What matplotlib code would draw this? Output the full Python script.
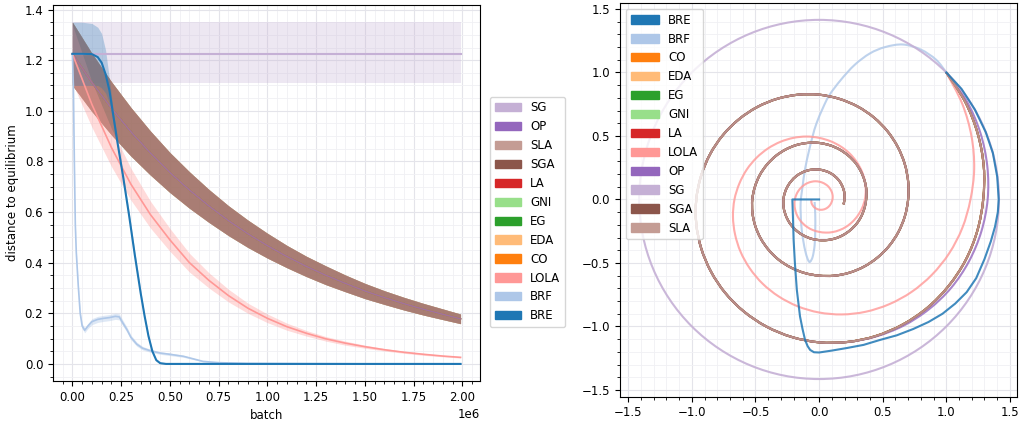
import numpy as np
import matplotlib
matplotlib.use("Agg")
import matplotlib.pyplot as plt
from matplotlib.patches import Patch, Circle, PathPatch
from matplotlib.path import Path

plt.rcParams["font.size"] = 8.5

colors = {"BRE": "#1f77b4", "BRF": "#aec7e8", "CO": "#ff7f0e", "EDA": "#ffbb78",
          "EG": "#2ca02c", "GNI": "#98df8a", "LA": "#d62728", "LOLA": "#ff9896",
          "OP": "#9467bd", "SG": "#c5b0d5", "SGA": "#8c564b", "SLA": "#c49c94"}

# ---------------- left panel data (batch in millions) ----------------
batch_m = [0.0, 0.1, 0.2, 0.3, 0.4, 0.5, 0.6, 0.7, 0.8, 0.9, 1.0,
           1.1, 1.2, 1.3, 1.4, 1.5, 1.6, 1.7, 1.8, 1.9, 1.99]
# CO, EDA, EG, GNI, LA, OP, SGA, SLA all sit on the same curve
group_mean = [1.225, 1.112, 1.010, 0.917, 0.833, 0.756, 0.687, 0.624, 0.566, 0.514, 0.467,
              0.424, 0.385, 0.350, 0.318, 0.288, 0.262, 0.238, 0.216, 0.196, 0.178]
group_spread = [0.125, 0.115, 0.105, 0.096, 0.087, 0.079, 0.072, 0.065, 0.059, 0.054, 0.049,
                0.044, 0.040, 0.037, 0.033, 0.030, 0.027, 0.025, 0.023, 0.021, 0.019]
lola_mean = [1.225, 1.025, 0.855, 0.710, 0.590, 0.490, 0.400, 0.330, 0.270, 0.220, 0.180,
             0.147, 0.121, 0.099, 0.082, 0.068, 0.056, 0.046, 0.038, 0.031, 0.026]
lola_spread = [0.115, 0.090, 0.075, 0.063, 0.053, 0.045, 0.037, 0.030, 0.025, 0.020, 0.017,
               0.014, 0.011, 0.009, 0.008, 0.006, 0.005, 0.004, 0.004, 0.003, 0.003]

sg_batch_m = [0.0, 1.99]
sg_mean = [1.225, 1.225]
sg_low = [1.11, 1.11]
sg_high = [1.35, 1.35]

bre_batch_m = [0.0, 0.05, 0.10, 0.13, 0.15, 0.17, 0.19, 0.21, 0.23, 0.26, 0.29, 0.32, 0.35,
               0.37, 0.39, 0.41, 0.43, 0.45, 0.48, 0.6, 1.0, 1.5, 1.99]
bre_mean = [1.225, 1.225, 1.224, 1.212, 1.190, 1.145, 1.080, 0.980, 0.880, 0.740, 0.590, 0.430,
            0.280, 0.190, 0.110, 0.050, 0.015, 0.003, 0.0, 0.0, 0.0, 0.0, 0.0]
bre_high = [1.35, 1.35, 1.345, 1.33, 1.305, 1.24, 1.125, 0.995, 0.895, 0.755, 0.605, 0.445,
            0.292, 0.198, 0.117, 0.055, 0.018, 0.004, 0.001, 0.0, 0.0, 0.0, 0.0]
bre_low = [1.10, 1.10, 1.10, 1.10, 1.09, 1.07, 1.03, 0.95, 0.86, 0.72, 0.57, 0.41,
           0.265, 0.18, 0.10, 0.044, 0.011, 0.001, 0.0, 0.0, 0.0, 0.0, 0.0]

brf_batch_m = [0.0, 0.005, 0.01, 0.015, 0.02, 0.03, 0.04, 0.05, 0.063, 0.08, 0.10, 0.13, 0.16,
               0.19, 0.22, 0.24, 0.26, 0.28, 0.30, 0.33, 0.36, 0.40, 0.45, 0.50, 0.57, 0.62,
               0.67, 0.75, 0.90, 1.2, 1.6, 1.99]
brf_mean = [1.225, 1.10, 0.80, 0.55, 0.44, 0.31, 0.20, 0.15, 0.133, 0.150, 0.167, 0.176, 0.180,
            0.183, 0.188, 0.186, 0.160, 0.135, 0.105, 0.078, 0.062, 0.052, 0.043, 0.038, 0.030,
            0.020, 0.010, 0.005, 0.002, 0.001, 0.0, 0.0]
brf_spread = [0.01, 0.01, 0.01, 0.01, 0.01, 0.01, 0.01, 0.01, 0.01, 0.01, 0.012, 0.012, 0.012,
              0.012, 0.012, 0.012, 0.011, 0.01, 0.009, 0.008, 0.007, 0.006, 0.005, 0.005, 0.004,
              0.003, 0.002, 0.001, 0.0, 0.0, 0.0, 0.0]

# ---------------- right panel data (trajectories) ----------------
# spirals: radius read every 11.25 degrees, clockwise, starting at 45 deg (the point (1, 1))
sga_r = [1.414, 1.382, 1.350, 1.320, 1.290,
         1.268, 1.247, 1.225, 1.205, 1.184, 1.164, 1.144, 1.125,
         1.104, 1.083, 1.062, 1.042, 1.022, 1.003, 0.984, 0.965,
         0.946, 0.928, 0.910, 0.892, 0.875, 0.858, 0.841, 0.825,
         0.808, 0.792, 0.776, 0.760, 0.744, 0.729, 0.714, 0.700,
         0.687, 0.674, 0.661, 0.648, 0.636, 0.624, 0.612, 0.600,
         0.590, 0.580, 0.571, 0.561, 0.552, 0.543, 0.534, 0.525,
         0.514, 0.504, 0.493, 0.483, 0.473, 0.464, 0.454, 0.445,
         0.435, 0.425, 0.415, 0.406, 0.396, 0.387, 0.379, 0.370,
         0.363, 0.357, 0.351, 0.344, 0.338, 0.332, 0.326, 0.320,
         0.315, 0.309, 0.304, 0.299, 0.294, 0.289, 0.285, 0.280,
         0.274, 0.268, 0.262, 0.257, 0.251, 0.246, 0.240, 0.235,
         0.230, 0.226, 0.221, 0.217, 0.212, 0.208, 0.204, 0.200,
         0.196]
op_head = [1.414, 1.395, 1.372, 1.348, 1.325, 1.300, 1.275, 1.250, 1.222, 1.195, 1.168, 1.145, 1.125]
lola_r = [1.414, 1.354, 1.297, 1.243, 1.190,
          1.148, 1.107, 1.067, 1.029, 0.992, 0.957, 0.923, 0.890,
          0.858, 0.827, 0.798, 0.769, 0.742, 0.715, 0.690, 0.665,
          0.639, 0.615, 0.591, 0.568, 0.546, 0.525, 0.505, 0.485,
          0.467, 0.450, 0.434, 0.418, 0.403, 0.388, 0.374, 0.360,
          0.345, 0.330, 0.316, 0.303, 0.290, 0.278, 0.266, 0.255,
          0.246, 0.237, 0.228, 0.220, 0.212, 0.204, 0.197, 0.190,
          0.183, 0.176, 0.169, 0.163, 0.157, 0.151, 0.146, 0.140,
          0.135, 0.130, 0.126, 0.121, 0.117, 0.113, 0.109, 0.105,
          0.101, 0.098, 0.095, 0.092, 0.089, 0.086, 0.083, 0.080,
          0.077, 0.074, 0.072, 0.069, 0.067, 0.065, 0.062, 0.060]
sg_radius = 1.414

bre_x = [1.0, 1.12, 1.225, 1.31, 1.366, 1.40, 1.412, 1.405, 1.383, 1.35, 1.30, 1.235, 1.16,
         1.07, 0.97, 0.86, 0.74, 0.61, 0.479, 0.35, 0.217, 0.10, 0.0, -0.04, -0.07, -0.09,
         -0.11, -0.13, -0.15, -0.175, -0.19, -0.20, -0.205, -0.21, -0.1, 0.0]
bre_y = [1.0, 0.87, 0.707, 0.53, 0.366, 0.18, 0.0, -0.1, -0.214, -0.33, -0.47, -0.62, -0.73,
         -0.82, -0.90, -0.965, -1.02, -1.07, -1.106, -1.145, -1.17, -1.19, -1.205, -1.203,
         -1.185, -1.155, -1.106, -1.02, -0.92, -0.71, -0.50, -0.32, -0.15, 0.0, 0.0, 0.0]
brf_x = [1.0, 0.92, 0.80, 0.66, 0.52, 0.40, 0.28, 0.17, 0.08, 0.03, -0.02, -0.05, -0.08,
         -0.11, -0.13, -0.145, -0.14, -0.125, -0.105, -0.085, -0.07, -0.05, -0.035, -0.03,
         -0.03, -0.035]
brf_y = [1.0, 1.10, 1.18, 1.22, 1.20, 1.15, 1.06, 0.94, 0.82, 0.72, 0.60, 0.50, 0.38,
         0.24, 0.10, -0.03, -0.20, -0.32, -0.42, -0.48, -0.49, -0.45, -0.36, -0.24,
         -0.12, -0.02]

left_order = ["SG", "OP", "SLA", "SGA", "LA", "GNI", "EG", "EDA", "CO", "LOLA", "BRF", "BRE"]
right_order = ["BRE", "BRF", "CO", "EDA", "EG", "GNI", "LA", "LOLA", "OP", "SG", "SGA", "SLA"]


def polar(r):
    r = np.array(r)
    th = np.deg2rad(45 - 11.25 * np.arange(len(r)))
    return r * np.cos(th), r * np.sin(th)


def smooth_path(x, y):
    # bezier curve through the read points (catmull-rom tangents)
    p = np.column_stack([x, y])
    ext = np.vstack([p[0], p, p[-1]])
    verts = [p[0]]
    codes = [Path.MOVETO]
    for i in range(len(p) - 1):
        c1 = ext[i + 1] + (ext[i + 2] - ext[i]) / 6
        c2 = ext[i + 2] - (ext[i + 3] - ext[i + 1]) / 6
        verts += [c1, c2, ext[i + 2]]
        codes += [Path.CURVE4] * 3
    return Path(verts, codes)


fig = plt.figure(figsize=(10.19, 4.25), dpi=100)
ax1 = fig.add_axes([0.052, 0.1035, 0.419, 0.8845])
ax2 = fig.add_axes([0.6084, 0.0666, 0.3893, 0.9264])

# --- left: distance to equilibrium ---
b = np.array(batch_m) * 1e6
gm = np.array(group_mean)
gs = np.array(group_spread)
lm = np.array(lola_mean)
ls = np.array(lola_spread)

ax1.fill_between(np.array(sg_batch_m) * 1e6, sg_low, sg_high, color=colors["SG"], alpha=0.3, lw=0)
for name in ["CO", "EDA", "EG", "GNI", "LA", "OP", "SLA", "SGA"]:
    ax1.fill_between(b, gm - gs, gm + gs, color=colors[name], alpha=0.3, lw=0)
ax1.fill_between(b, lm - ls, lm + ls, color=colors["LOLA"], alpha=0.35, lw=0)
bb = np.array(bre_batch_m) * 1e6
ax1.fill_between(bb, bre_low, bre_high, color=colors["BRE"], alpha=0.28, lw=0)
fb = np.array(brf_batch_m) * 1e6
fm = np.array(brf_mean)
fs = np.array(brf_spread)
ax1.fill_between(fb, fm - fs, fm + fs, color=colors["BRF"], alpha=0.4, lw=0)

ax1.plot(np.array(sg_batch_m) * 1e6, sg_mean, color=colors["SG"], lw=1.5)
for name in ["CO", "EDA", "EG", "GNI", "LA", "SGA", "SLA", "OP"]:
    ax1.plot(b, gm, color=colors[name], lw=1.0, alpha=0.6)
ax1.plot(b, lm, color=colors["LOLA"], lw=1.2)
ax1.plot(fb, fm, color=colors["BRF"], lw=1.2)
ax1.plot(bb, bre_mean, color=colors["BRE"], lw=1.5)

ax1.set_xlabel("batch")
ax1.set_ylabel("distance to equilibrium")
ax1.legend(handles=[Patch(color=colors[n], label=n) for n in left_order],
           loc="center left", bbox_to_anchor=(1.01, 0.45), handlelength=2.2)

# --- right: trajectories ---
for name in right_order:
    style = dict(fill=False, ec=colors[name], lw=1.5, alpha=0.8)
    if name == "SG":
        style["alpha"] = 0.9
        ax2.add_patch(Circle((0, 0), sg_radius, **style))
    elif name == "BRE":
        ax2.plot(bre_x, bre_y, color=colors[name], lw=1.5, alpha=0.85)
    elif name == "BRF":
        ax2.add_patch(PathPatch(smooth_path(brf_x, brf_y), **style))
    elif name == "LOLA":
        ax2.add_patch(PathPatch(smooth_path(*polar(lola_r)), **style))
    elif name == "OP":
        ax2.add_patch(PathPatch(smooth_path(*polar(op_head + sga_r[len(op_head):])), **style))
    else:
        ax2.add_patch(PathPatch(smooth_path(*polar(sga_r)), **style))

ax2.set_xlim(-1.565, 1.553)
ax2.set_ylim(-1.553, 1.547)
ax2.legend(handles=[Patch(color=colors[n], label=n) for n in right_order],
           loc="upper left", handlelength=2.4)

for ax in (ax1, ax2):
    ax.minorticks_on()
    ax.grid(which="major", color="#e4e4ea", lw=0.8)
    ax.grid(which="minor", color="#f0f0f4", lw=0.6)
    ax.set_axisbelow(True)

fig.savefig("out.png", dpi=100)
